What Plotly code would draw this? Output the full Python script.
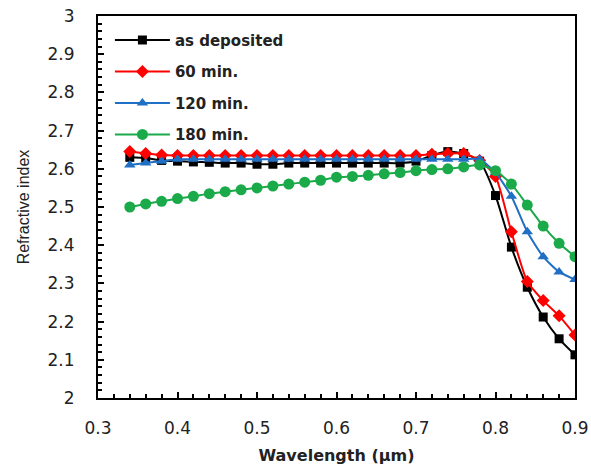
import plotly.graph_objects as go

wavelength = [0.34, 0.36, 0.38, 0.40, 0.42, 0.44, 0.46, 0.48, 0.50, 0.52, 0.54, 0.56, 0.58, 0.60,
              0.62, 0.64, 0.66, 0.68, 0.70, 0.72, 0.74, 0.76, 0.78, 0.80, 0.82, 0.84, 0.86, 0.88, 0.90]

as_deposited = [2.630, 2.628, 2.622, 2.620, 2.618, 2.617, 2.615, 2.615, 2.612, 2.612, 2.615, 2.615,
                2.615, 2.615, 2.615, 2.615, 2.615, 2.615, 2.620, 2.635, 2.645, 2.640, 2.620, 2.530,
                2.395, 2.290, 2.212, 2.155, 2.113]
min60 = [2.645, 2.640, 2.636, 2.635, 2.635, 2.635, 2.635, 2.635, 2.635, 2.635, 2.635, 2.635,
         2.635, 2.635, 2.635, 2.635, 2.635, 2.635, 2.635, 2.638, 2.640, 2.640, 2.622, 2.580,
         2.435, 2.305, 2.255, 2.215, 2.165]
min120 = [2.610, 2.615, 2.620, 2.625, 2.625, 2.625, 2.625, 2.625, 2.625, 2.625, 2.625, 2.625,
          2.625, 2.625, 2.625, 2.625, 2.625, 2.625, 2.625, 2.625, 2.625, 2.625, 2.625, 2.590,
          2.528, 2.435, 2.370, 2.330, 2.310]
min180 = [2.500, 2.508, 2.515, 2.522, 2.528, 2.535, 2.540, 2.545, 2.550, 2.555, 2.560, 2.565,
          2.570, 2.578, 2.580, 2.583, 2.587, 2.590, 2.595, 2.598, 2.600, 2.605, 2.610, 2.595,
          2.560, 2.505, 2.450, 2.405, 2.370]

series = [
    ("as deposited", as_deposited, "#000000", "square", 9),
    ("60 min.", min60, "#ff0000", "diamond", 10),
    ("120 min.", min120, "#1f6fc4", "triangle-up", 10),
    ("180 min.", min180, "#1aaa4a", "circle", 11),
]

fig = go.Figure()
for i, (name, vals, color, sym, size) in enumerate(series):
    fig.add_trace(go.Scatter(
        x=wavelength, y=vals, name=name, mode="lines+markers",
        line=dict(color=color, width=2, shape="spline", smoothing=0.6),
        marker=dict(symbol=sym, size=size, color=color),
        legendgroup=f"g{i}",
    ))

tick_font = dict(family="DejaVu Sans", size=17, color="#222")
axis_common = dict(
    showgrid=False, zeroline=False, showline=True, linecolor="black", linewidth=2,
    mirror=True, ticks="inside", ticklen=6, tickwidth=1.5, tickcolor="black",
    tickfont=tick_font, automargin=False,
)

fig.update_xaxes(
    range=[0.3, 0.9], dtick=0.1, tickformat=".1f", ticklabelstandoff=14,
    minor=dict(dtick=0.02, ticks="inside", ticklen=4, tickcolor="black", tickwidth=1.5),
    title=dict(text="<b>Wavelength (µm)</b>", font=dict(family="DejaVu Sans", size=16, color="#222"), standoff=12),
    **axis_common,
)
fig.update_yaxes(
    range=[2, 3], dtick=0.1, tickformat="~g", ticklabelstandoff=18,
    minor=dict(dtick=0.02, ticks="inside", ticklen=4, tickcolor="black", tickwidth=1.5),
    title=dict(text="Refractive index", font=dict(family="Liberation Sans, Arial", size=16, color="#222"), standoff=14),
    **axis_common,
)

fig.update_layout(
    width=591, height=472,
    margin=dict(l=98, r=16, t=16, b=74),
    plot_bgcolor="white", paper_bgcolor="white",
    legend=dict(x=0.025, y=0.98, xanchor="left", yanchor="top", itemwidth=55,
                font=dict(family="DejaVu Sans", size=15, color="#222", weight="bold"),
                tracegroupgap=9, bgcolor="rgba(0,0,0,0)"),
)

fig.write_html("out.html")
